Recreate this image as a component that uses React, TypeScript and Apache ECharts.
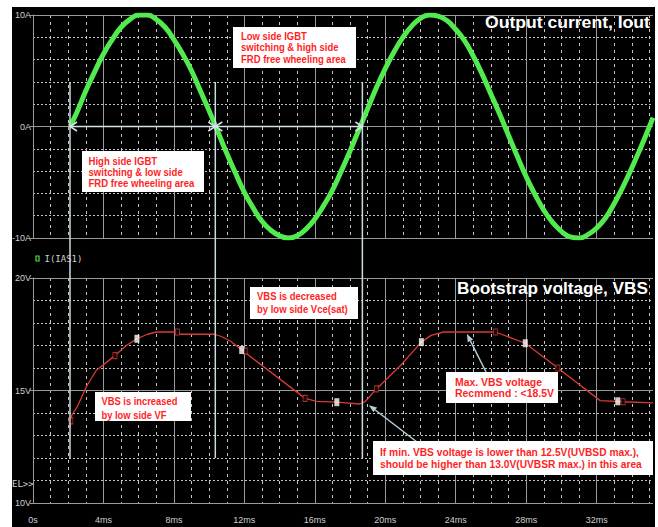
import React, { useEffect, useRef } from "react";
import * as echarts from "echarts";

// ---------- data ----------
const timeMs = [
  2.1, 2.5, 3, 3.5, 4, 4.5, 5, 5.5, 6, 6.5, 7, 7.5, 8, 8.5, 9, 9.5,
  10, 10.5, 11, 11.5, 12, 12.5, 13, 13.5, 14, 14.5, 15, 15.5, 16, 16.5, 17, 17.5,
  18, 18.5, 19, 19.5, 20, 20.5, 21, 21.5, 22, 22.5, 23, 23.5, 24, 24.5, 25, 25.5,
  26, 26.5, 27, 27.5, 28, 28.5, 29, 29.5, 30, 30.5, 31, 31.5, 32, 32.5, 33, 33.5,
  34, 34.5, 35, 35.2,
];
const currentA = [
  0.0, 1.3, 3.2, 4.9, 6.5, 7.8, 8.9, 9.6, 10.0, 10.0, 9.6, 8.9,
  7.8, 6.5, 5.0, 3.2, 1.4, -0.5, -2.4, -4.2, -5.9, -7.3, -8.5, -9.3, -9.8, -10.0, -9.8,
  -9.2, -8.3, -7.1, -5.7, -4.0, -2.2, -0.3, 1.6, 3.5, 5.2, 6.7, 8.0, 9.0, 9.7, 10.0, 9.9,
  9.5, 8.7, 7.7, 6.3, 4.7, 2.9, 1.1, -0.8, -2.7, -4.5, -6.1, -7.5, -8.6, -9.4, -9.9,
  -10.0, -9.7, -9.1, -8.2, -6.9, -5.4, -3.7, -1.9, 0.0, 0.8,
];

const vbsTimeMs = [
  2.1, 2.2, 2.5, 3.05, 3.6, 4.65, 5.3, 5.9, 6.5, 7.0, 8.2, 8.4, 10.3, 10.7, 11.2, 11.85,
  15.45, 16.1, 17.25, 18.55, 18.85, 19.5, 20.85, 22.05, 22.6, 23.3, 26.25, 26.6, 27.95,
  29.8, 32.2, 33.5, 35.2,
];
const vbsVolt = [
  13.3, 13.9, 14.26, 15.2, 15.9, 16.55, 17.0, 17.3, 17.5, 17.6, 17.6, 17.5, 17.5, 17.4,
  17.2, 16.8, 14.65, 14.52, 14.48, 14.4, 14.5, 15.07, 16.1, 17.15, 17.45, 17.6, 17.6,
  17.5, 17.1, 16.0, 14.55, 14.5, 14.45,
];

const whiteMarkTimeMs = [5.9, 11.85, 17.25, 22.05, 27.95, 33.2];
const whiteMarkVolt = [17.3, 16.8, 14.48, 17.15, 17.1, 14.52];
const hollowMarkTimeMs = [2.15, 4.65, 8.2, 12.05, 15.45, 19.5, 26.25, 29.8, 33.5];
const hollowMarkVolt = [13.65, 16.55, 17.6, 16.75, 14.65, 15.07, 17.6, 16.0, 14.5];

const cursorTimesMs = [2.1, 10.35, 18.7];
const cursorTopA = 4;
const cursorBottomV = 12;

const timeMax = 35.2;
const currentMin = -10;
const currentMax = 10;
const voltMin = 10;
const voltMax = 20;

const currentLabelStep = 10;
const currentGridStep = 2;
const voltLabelStep = 5;
const voltGridStep = 1;
const timeLabelStep = 4;
const timeGridStep = 1;

const titleTop = "Output current, Iout";
const titleBottom = "Bootstrap voltage, VBS";
const legendText = "I(IAS1)";
const selText = "EL>>";

const notes = [
  { lines: ["Low side IGBT", "switching & high side", "FRD free wheeling area"] },
  { lines: ["High side IGBT", "switching & low side", "FRD free wheeling area"] },
  { lines: ["VBS is decreased", "by low side Vce(sat)"] },
  { lines: ["VBS is increased", "by low side VF"] },
  { lines: ["Max. VBS voltage", "Recmmend : <18.5V"] },
  {
    lines: [
      "If min. VBS voltage is lower than 12.5V(UVBSD max.),",
      "should be higher than 13.0V(UVBSR max.) in this area",
    ],
  },
];

// ---------- layout / styles ----------
const noteLayout = [
  { x: 233, y: 27, w: 123, h: 41, tx: 241, ty: 30.6, lh: 11.4, size: 10.5, target: 105 },
  { x: 82, y: 151, w: 122, h: 41, tx: 88.5, ty: 156.3, lh: 10.8, size: 10.5, target: 106 },
  { x: 250, y: 287, w: 108, h: 32, tx: 257, ty: 290.4, lh: 12.6, size: 11, target: 91 },
  { x: 95, y: 392, w: 96, h: 29, tx: 101.5, ty: 395, lh: 13.3, size: 11, target: 76 },
  { x: 446, y: 372, w: 112, h: 31, tx: 455, ty: 375.9, lh: 11.6, size: 11, target: 99 },
  { x: 373, y: 441, w: 280, h: 34, tx: 380, ty: 445.4, lh: 12.6, size: 11, target: 262 },
];

const GRID_LEFT = 33;
const GRID_WIDTH = 620;
const TOP_GRID = { top: 15, height: 223 };
const BOT_GRID = { top: 278, height: 225 };

const dottedColor = "#c4c4c4";
const solidColor = "#9a9a9a";
const labelColor = "#cfcfcf";
const monoFont = "DejaVu Sans Mono";
const tickFont = "Liberation Sans";
const noteRed = "#ff1f1f";
const cursorColor = "#c9dbe2";
const arrowColor = "#b5cdd6";

function measureScale(lines: string[], font: string, target: number) {
  const c = document.createElement("canvas").getContext("2d");
  if (!c) return 0.85;
  c.font = font;
  const w = Math.max(...lines.map((l) => c.measureText(l).width));
  return w > 0 ? target / w : 1;
}

function xAxisPair(gridIndex: number, labels: boolean) {
  return [
    {
      type: "value",
      gridIndex,
      min: 0,
      max: timeMax,
      interval: timeGridStep,
      position: "bottom",
      axisLine: { show: false },
      axisTick: { show: false },
      axisLabel: { show: false },
      splitLine: {
        show: true,
        showMaxLine: false,
        lineStyle: { color: dottedColor, width: 1, type: [3, 4] },
      },
    },
    {
      type: "value",
      gridIndex,
      min: 0,
      max: timeMax,
      interval: timeLabelStep,
      position: "bottom",
      z: 1,
      axisLine: { show: false },
      axisTick: { show: false },
      axisLabel: labels
        ? {
            show: true,
            margin: 12,
            color: labelColor,
            fontFamily: tickFont,
            fontSize: 9,
            showMaxLabel: false,
            formatter: (v: number) =>
              v % timeLabelStep === 0 ? (v === 0 ? "0s" : v + "ms") : "",
          }
        : { show: false },
      splitLine: {
        show: true,
        showMaxLine: false,
        lineStyle: { color: solidColor, width: 1, type: "solid" },
      },
    },
  ];
}

function yAxisPair(
  gridIndex: number,
  min: number,
  max: number,
  gridStep: number,
  labelStep: number,
  unit: string
) {
  return [
    {
      type: "value",
      gridIndex,
      min,
      max,
      interval: gridStep,
      position: "left",
      axisLine: { show: false },
      axisTick: { show: false },
      axisLabel: { show: false },
      splitLine: { show: true, lineStyle: { color: dottedColor, width: 1, type: [2, 2] } },
    },
    {
      type: "value",
      gridIndex,
      min,
      max,
      interval: labelStep,
      position: "left",
      z: 1,
      axisLine: { show: true, lineStyle: { color: solidColor, width: 1 } },
      axisTick: { show: true, length: 3, lineStyle: { color: solidColor } },
      axisLabel: {
        show: true,
        margin: 2,
        color: labelColor,
        fontFamily: tickFont,
        fontSize: 9,
        formatter: (v: number) => v + unit,
      },
      splitLine: { show: true, lineStyle: { color: solidColor, width: 1, type: "solid" } },
    },
  ];
}

export default function App() {
  const ref = useRef<HTMLDivElement>(null);

  useEffect(() => {
    if (!ref.current) return;
    const chart = echarts.init(ref.current, null, { renderer: "svg" });

    const option: any = {
      animation: false,
      backgroundColor: "transparent",
      grid: [
        { left: GRID_LEFT, width: GRID_WIDTH, top: TOP_GRID.top, height: TOP_GRID.height },
        { left: GRID_LEFT, width: GRID_WIDTH, top: BOT_GRID.top, height: BOT_GRID.height },
      ],
      xAxis: [...xAxisPair(0, false), ...xAxisPair(1, true)],
      yAxis: [
        ...yAxisPair(0, currentMin, currentMax, currentGridStep, currentLabelStep, "A"),
        ...yAxisPair(1, voltMin, voltMax, voltGridStep, voltLabelStep, "V"),
      ],
      series: [
        {
          type: "line",
          name: "Iout",
          xAxisIndex: 1,
          yAxisIndex: 1,
          data: timeMs.map((t, i) => [t, currentA[i]]),
          smooth: true,
          showSymbol: false,
          z: 3,
          lineStyle: { color: "#52ea4f", width: 5 },
        },
        {
          type: "line",
          name: "VBS",
          xAxisIndex: 3,
          yAxisIndex: 3,
          data: vbsTimeMs.map((t, i) => [t, vbsVolt[i]]),
          showSymbol: false,
          z: 3,
          lineStyle: { color: "#d83a35", width: 1.3 },
        },
        {
          type: "scatter",
          xAxisIndex: 3,
          yAxisIndex: 3,
          data: hollowMarkTimeMs.map((t, i) => [t, hollowMarkVolt[i]]),
          symbol: "rect",
          symbolSize: [4, 6],
          z: 4,
          itemStyle: { color: "#000", borderColor: "#d83a35", borderWidth: 1 },
        },
        {
          type: "scatter",
          xAxisIndex: 3,
          yAxisIndex: 3,
          data: whiteMarkTimeMs.map((t, i) => [t, whiteMarkVolt[i]]),
          symbol: "rect",
          symbolSize: [5, 8],
          z: 5,
          itemStyle: { color: "#ffffff" },
        },
      ],
    };
    chart.setOption(option);

    const p0 = (t: number, v: number) =>
      chart.convertToPixel({ seriesIndex: 0 }, [t, v]) as number[];
    const p1 = (t: number, v: number) =>
      chart.convertToPixel({ seriesIndex: 1 }, [t, v]) as number[];

    const g: any[] = [];

    // cursor lines
    cursorTimesMs.forEach((t) => {
      const a = p0(t, cursorTopA);
      const b = p1(t, cursorBottomV);
      g.push({
        type: "line",
        z: 10,
        shape: { x1: a[0], y1: a[1], x2: b[0], y2: b[1] },
        style: { stroke: cursorColor, lineWidth: 1.5 },
      });
    });

    // double arrows along 0A
    const y0 = p0(0, 0)[1];
    for (let i = 0; i < cursorTimesMs.length - 1; i++) {
      const xa = p0(cursorTimesMs[i], 0)[0];
      const xb = p0(cursorTimesMs[i + 1], 0)[0];
      g.push({
        type: "line",
        z: 10,
        shape: { x1: xa, y1: y0, x2: xb, y2: y0 },
        style: { stroke: "#d6e2e6", lineWidth: 1.5 },
      });
      g.push({
        type: "polyline",
        z: 10,
        shape: { points: [[xa + 7, y0 - 4.5], [xa, y0], [xa + 7, y0 + 4.5]] },
        style: { stroke: "#d6e2e6", lineWidth: 1.5, fill: null },
      });
      g.push({
        type: "polyline",
        z: 10,
        shape: { points: [[xb - 7, y0 - 4.5], [xb, y0], [xb - 7, y0 + 4.5]] },
        style: { stroke: "#d6e2e6", lineWidth: 1.5, fill: null },
      });
    }

    // pointer arrows from notes to curve
    const arrow = (tail: number[], tip: number[]) => {
      const dx = tip[0] - tail[0];
      const dy = tip[1] - tail[1];
      const len = Math.hypot(dx, dy);
      const ux = dx / len;
      const uy = dy / len;
      const hl = 8;
      const hw = 3;
      const bx = tip[0] - ux * hl;
      const by = tip[1] - uy * hl;
      g.push({
        type: "line",
        z: 11,
        shape: { x1: tail[0], y1: tail[1], x2: bx, y2: by },
        style: { stroke: arrowColor, lineWidth: 1.5 },
      });
      g.push({
        type: "polygon",
        z: 11,
        shape: {
          points: [
            [tip[0], tip[1]],
            [bx - uy * hw, by + ux * hw],
            [bx + uy * hw, by - ux * hw],
          ],
        },
        style: { fill: arrowColor },
      });
    };
    arrow([486, 372], p1(24.63, 17.52));
    arrow([417, 442], p1(19.07, 14.35));

    // note boxes
    notes.forEach((n, i) => {
      const L = noteLayout[i];
      const font = `bold ${L.size}px "Liberation Sans"`;
      const sx = measureScale(n.lines, font, L.target);
      g.push({
        type: "rect",
        z: 20,
        shape: { x: L.x, y: L.y, width: L.w, height: L.h },
        style: { fill: "#ffffff" },
      });
      g.push({
        type: "text",
        z: 21,
        x: L.tx,
        y: L.ty,
        scaleX: sx,
        style: {
          text: n.lines.join("\n"),
          x: 0,
          y: 0,
          font,
          fill: noteRed,
          lineHeight: L.lh,
          textAlign: "left",
          verticalAlign: "top",
          textVerticalAlign: "top",
        },
      });
    });

    // titles
    const titleFont = 'bold 16px "Liberation Sans"';
    [
      { text: titleTop, x: 485, y: 23, w: 165 },
      { text: titleBottom, x: 457, y: 289, w: 191 },
    ].forEach((t) => {
      g.push({
        type: "text",
        z: 21,
        x: t.x,
        y: t.y,
        scaleX: measureScale([t.text], titleFont, t.w),
        style: {
          text: t.text,
          x: 0,
          y: 0,
          font: titleFont,
          fill: "#ffffff",
          textAlign: "left",
          verticalAlign: "middle",
          textVerticalAlign: "middle",
        },
      });
    });

    // legend and misc labels
    g.push({
      type: "rect",
      z: 21,
      shape: { x: 36, y: 256, width: 3, height: 5 },
      style: { fill: null, stroke: "#4fe24c", lineWidth: 1.2 },
    });
    g.push({
      type: "text",
      z: 21,
      x: 44.5,
      y: 258.5,
      style: {
        text: legendText,
        x: 0,
        y: 0,
        font: `9px "${monoFont}"`,
        fill: labelColor,
        verticalAlign: "middle",
        textVerticalAlign: "middle",
      },
    });
    g.push({
      type: "text",
      z: 21,
      x: 12,
      y: 483.5,
      style: {
        text: selText,
        x: 0,
        y: 0,
        font: `9px "${monoFont}"`,
        fill: labelColor,
        verticalAlign: "middle",
        textVerticalAlign: "middle",
      },
    });

    chart.setOption({ graphic: { elements: g } });

    return () => chart.dispose();
  }, []);

  return (
    <div
      style={{
        position: "fixed",
        left: 0,
        top: 0,
        width: 658,
        height: 527,
        background: "#ffffff",
        overflow: "hidden",
      }}
    >
      <div
        style={{
          position: "absolute",
          left: 12,
          top: 7,
          right: 3,
          bottom: 0,
          background: "#000000",
        }}
      />
      <div
        ref={ref}
        style={{ position: "absolute", left: 0, top: 0, width: 658, height: 527 }}
      />
    </div>
  );
}
